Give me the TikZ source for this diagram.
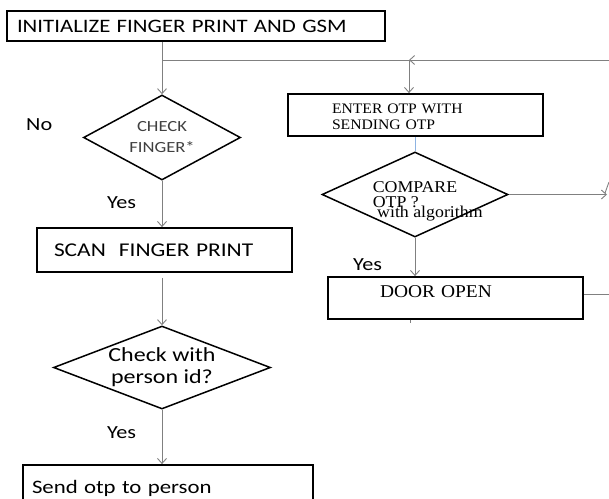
\documentclass[tikz,border=0pt]{standalone}
\usepackage{fontspec}
\setmainfont{Liberation Serif}[FakeStretch=1.08]
\newfontfamily\calfont{Carlito}[FakeStretch=1.2]
\usetikzlibrary{shapes.geometric,arrows.meta}
\definecolor{linkblue}{HTML}{8DB3E2}
\newcommand{\nudge}[2]{\raisebox{#1}[\height][\depth]{#2}}
\begin{document}
\begin{tikzpicture}[x=1pt,y=-1pt]
\tikzstyle{box} = [draw,line width=1.8pt,rectangle,inner ysep=0,minimum height=42,align=left];
\tikzstyle{decide} = [draw,line width=1.5pt,diamond,aspect=2.6,inner sep=0];
\tikzstyle{line} = [draw=black!50,line width=0.9pt];
\tikzstyle{arr} = [line,-{Straight Barb[length=5pt,width=9pt]}];
\tikzstyle{lbl} = [anchor=base west,inner sep=0,font=\calfont\fontsize{18.5}{20}\selectfont];
\useasboundingbox (0,0) rectangle (609,498);
\clip (0,0) rectangle (609,498);
% left column
\node[box,minimum height=30,inner xsep=10,text width=358,font=\calfont\fontsize{19}{22}\selectfont] (init) at (196,26) {INITIALIZE FINGER PRINT AND GSM};
\node[decide,minimum width=157,minimum height=85,align=center,text=black!75,font=\calfont\fontsize{15.5}{21}\selectfont] (check) at (162,137.5) {CHECK\\FINGER*};
\node[box,minimum height=44,inner xsep=17,text width=221,font=\calfont\fontsize{19.5}{22}\selectfont] (scan) at (164.5,250) {SCAN\ \ FINGER PRINT};
\node[decide,minimum width=217,minimum height=83,align=center,font=\calfont\fontsize{20}{22}\selectfont] (person) at (162,367.5) {Check with\\person id?};
\node[box,minimum height=46,inner xsep=9,text width=272,font=\calfont\fontsize{19}{22}\selectfont] (send) at (168,488) {Send otp to person};
% right column
\node[box,inner xsep=44,text width=167,font=\fontsize{14.5}{16}\selectfont] (enter) at (415.5,115) {\nudge{-3pt}{\begin{tabular}{@{}l@{}}ENTER OTP WITH\\SENDING OTP\end{tabular}}};
\node[decide,minimum width=186,minimum height=85,align=left,font=\fontsize{16.5}{15}\selectfont] (compare) at (415,194.5) {COMPARE\\OTP ?};
\node[anchor=base west,inner sep=0,font=\fontsize{16.5}{18}\selectfont] (algo) at (377,217) {with algorithm};
\node[box,inner xsep=52,text width=151,font=\fontsize{18}{20}\selectfont] (door) at (455.5,298) {\nudge{6.5pt}{DOOR OPEN}};
% labels
\node[lbl] (no) at (26,130) {No};
\node[lbl] (yes1) at (107,208) {Yes};
\node[lbl] (yes2) at (107,438) {Yes};
\node[lbl] (yes3) at (353,270) {Yes};
% connectors
\coordinate (split) at (check.north |- 0,60);
\coordinate (junc) at (409,60);
\coordinate (rtop) at (609,60);
\draw[arr] (check.north |- init.south) -- (check.north);
\draw[line] (split) -- (junc);
\draw[arr] (rtop) -- (junc);
\draw[arr] (junc) -- (junc |- enter.north);
\draw[arr] (check.south) -- (check.south |- scan.north);
\draw[arr] (person.north |- scan.south) ++(0,5) -- (person.north);
\draw[arr] (person.south) -- (person.south |- send.north);
\draw[line,draw=linkblue] (compare.north |- enter.south) -- (compare.north);
\draw[arr] (compare.east) -- (607,194.5);
\draw[arr] (compare.south) -- (compare.south |- door.north);
\draw[line] ([yshift=4pt]door.east) -- ([yshift=4pt]door.east -| rtop);
\draw[line] ([xshift=-45.5pt]door.south) -- ++(0,3);
\draw[line] (605,193) -- (609,182);
\end{tikzpicture}
\end{document}
